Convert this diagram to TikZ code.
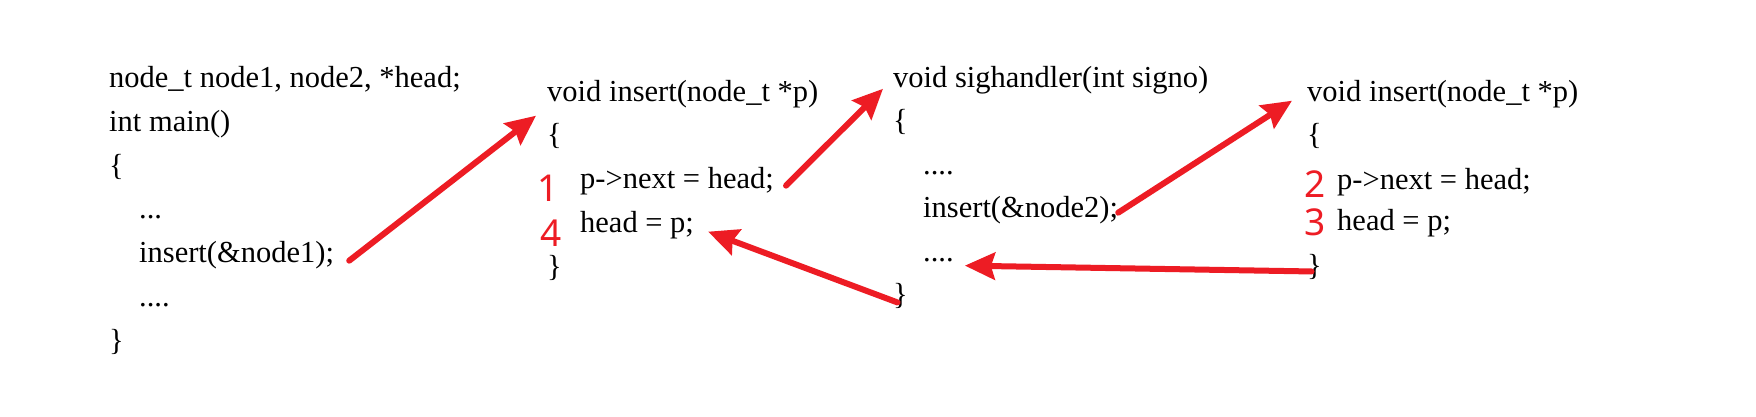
\documentclass[tikz,border=0pt]{standalone}
\usepackage{fontspec}
\setmainfont{Liberation Serif}
\newfontfamily\numfont{Noto Sans}
\usetikzlibrary{arrows.meta}
\definecolor{callred}{HTML}{ED1C24}

\begin{document}
\begin{tikzpicture}[x=1pt, y=-1pt, inner sep=0pt,
      font=\fontsize{30.5}{36}\selectfont,
      code/.style={anchor=base west},
      num/.style={text=callred, font=\numfont\fontsize{37}{40}\selectfont},
      call/.style={draw=callred, line width=6pt, line cap=round,
        -{Stealth[length=30pt, width=27pt, inset=4pt]}}]
      \useasboundingbox[fill=white] (0,0) rectangle (1756,416);
      % main
      \node[code] (decl) at(109,87) {node\_t node1, node2, *head;};
      \node[code] (main) at(109,131) {int main()};
      \node[code] (open1) at(109,175) {\{};
      \node[code] (dots1a) at(139,218) {...};
      \node[code] (ins1) at(139,262) {insert(\&node1);};
      \node[code] (dots1b) at(139,306) {....};
      \node[code] (close1) at(109,350) {\}};
      % insert, first call
      \node[code] (void1) at(547,101) {void insert(node\_t *p)};
      \node[code] (open2) at(547,144) {\{};
      \node[code] (next2) at(580,188) {p->next = head;};
      \node[code] (head2) at(580,232) {head = p;};
      \node[code] (close2) at(547,276) {\}};
      \node[num] (n1) at(548,188) {1};
      \node[num] (n4) at(551,233) {4};
      % sighandler
      \node[code] (sig) at(893,87) {void sighandler(int signo)};
      \node[code] (open3) at(893,130) {\{};
      \node[code] (dots3a) at(923,174) {....};
      \node[code] (ins2) at(923,217) {insert(\&node2);};
      \node[code] (dots3b) at(923,261) {....};
      \node[code] (close3) at(893,304) {\}};
      % insert, second call
      \node[code] (void2) at(1307,101) {void insert(node\_t *p)};
      \node[code] (open4) at(1307,144) {\{};
      \node[code] (next4) at(1337,189) {p->next = head;};
      \node[code] (head4) at(1337,230) {head = p;};
      \node[code] (close4) at(1307,275) {\}};
      \node[num] (n2) at(1315,184) {2};
      \node[num] (n3) at(1315,222) {3};
      % calls and returns
      \draw[call] ([shift={(15,6)}]ins1.east) -- ([shift={(-11,8)}]void1.south west);
      \draw[call] ([shift={(12,5)}]next2.east) -- ([shift={(-10,-5)}]sig.south west);
      \draw[call] ([shift={(0,3)}]ins2.east) -- ([shift={(-15,-7)}]void2.south west);
      \draw[call] ([shift={(-3,5)}]close4.center) -- ([shift={(11,6)}]dots3b.east);
      \draw[call] ([shift={(-3,7)}]close3.center) -- ([shift={(14,7)}]head2.east);
  \end{tikzpicture}
\end{document}
